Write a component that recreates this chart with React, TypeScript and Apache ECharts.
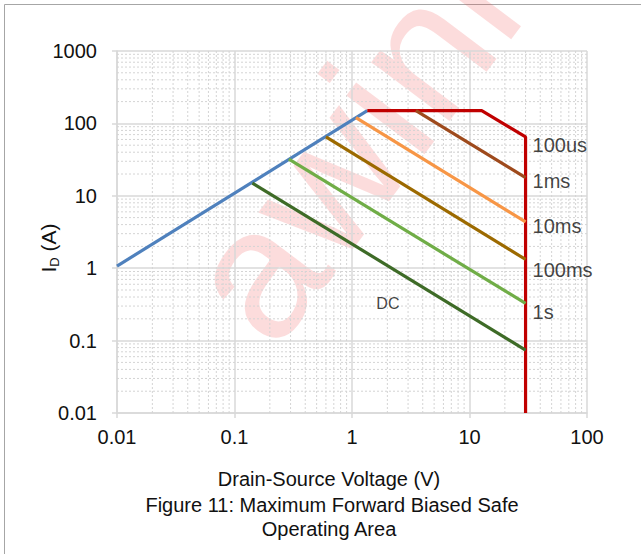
import React, { useEffect, useRef } from "react";
import * as echarts from "echarts";

// ---- data ----
const X_MIN = 0.01;
const X_MAX = 100;
const Y_MIN = 0.01;
const Y_MAX = 1000;

const limitV = [0.01, 1.35];
const limitI = [1.07, 150];

const us100V = [1.35, 12.7, 30, 30];
const us100I = [150, 150, 65, 0.01];

const ms1V = [3.5, 30];
const ms1I = [150, 17.8];

const ms10V = [1.08, 30];
const ms10I = [120, 4.35];

const ms100V = [0.6, 30];
const ms100I = [65, 1.32];

const s1V = [0.29, 30];
const s1I = [32, 0.326];

const dcV = [0.142, 30];
const dcI = [15, 0.074];

const curveNames = ["100us", "1ms", "10ms", "100ms", "1s"];
const labelV = [30, 30, 30, 30, 30];
const labelI = [50, 15.8, 3.8, 0.94, 0.247];
const dcLabelV = 2.02;
const dcLabelI = 0.33;

const FONT = "'Liberation Sans', Arial, sans-serif";

function zip(xs: number[], ys: number[]) {
  return xs.map((x, i) => [x, ys[i]]);
}

function minorValues(minExp: number, maxExp: number) {
  const out: number[] = [];
  for (let e = minExp; e < maxExp; e++) {
    for (let k = 2; k <= 9; k++) out.push(+(k * Math.pow(10, e)).toPrecision(3));
  }
  return out;
}

export default function App() {
  const ref = useRef<HTMLDivElement>(null);

  useEffect(() => {
    if (!ref.current) return;
    const chart = echarts.init(ref.current, undefined, { renderer: "svg" });

    const minorData: number[][] = [
      ...minorValues(-2, 2).map((v) => [v, 1, 0]),
      ...minorValues(-2, 3).map((v) => [1, v, 1]),
    ];

    const lineSeries = (name: string, data: number[][], color: string) => ({
      name,
      type: "line",
      data,
      showSymbol: false,
      symbol: "none",
      lineStyle: { color, width: 3.2 },
      z: 3,
      silent: true,
    });

    const option: any = {
      animation: false,
      backgroundColor: "#ffffff",
      grid: { left: 117, right: 54, top: 51, bottom: 141 },
      xAxis: {
        type: "log",
        logBase: 10,
        min: X_MIN,
        max: X_MAX,
        interval: 1,
        axisLine: { show: true, lineStyle: { color: "#d9d9d9", width: 1.5 } },
        axisTick: { show: true, inside: false, length: 5, lineStyle: { color: "#d9d9d9", width: 1.5 } },
        axisLabel: {
          color: "#111",
          fontSize: 20,
          fontFamily: FONT,
          margin: 14,
          formatter: (v: number) => String(+v.toPrecision(3)),
        },
        splitLine: { show: true, lineStyle: { color: "#d9d9d9", width: 1.5 } },
      },
      yAxis: {
        type: "log",
        logBase: 10,
        min: Y_MIN,
        max: Y_MAX,
        interval: 1,
        axisLine: { show: true, lineStyle: { color: "#d9d9d9", width: 1.5 } },
        axisTick: { show: true, inside: false, length: 5, lineStyle: { color: "#d9d9d9", width: 1.5 } },
        axisLabel: {
          color: "#111",
          fontSize: 20,
          fontFamily: FONT,
          margin: 20,
          formatter: (v: number) => String(+v.toPrecision(3)),
        },
        splitLine: { show: true, lineStyle: { color: "#d9d9d9", width: 1.5 } },
      },
      graphic: [
        {
          type: "rect",
          z: -5,
          silent: true,
          shape: { x: 4.5, y: 4.5, width: 800, height: 800 },
          style: { fill: "none", stroke: "#a6a6a6", lineWidth: 1 },
        },
        {
          type: "text",
          z: -2,
          silent: true,
          x: 297,
          y: 370,
          rotation: (53 * Math.PI) / 180,
          style: {
            text: "awinic",
            fontSize: 185,
            fontWeight: "normal",
            fontFamily: FONT,
            fill: "rgba(240, 60, 60, 0.18)",
            textAlign: "left",
            textVerticalAlign: "bottom",
          },
        },
        {
          type: "text",
          silent: true,
          x: 48,
          y: 248,
          rotation: Math.PI / 2,
          style: {
            text: "{a|I}{s|D}{a| (A)}",
            textAlign: "center",
            textVerticalAlign: "middle",
            rich: {
              a: { fontSize: 21, fontFamily: FONT, fill: "#111", lineHeight: 26, verticalAlign: "middle" },
              s: { fontSize: 13, fontFamily: FONT, fill: "#111", lineHeight: 12, verticalAlign: "bottom" },
            },
          },
        },
        {
          type: "text",
          silent: true,
          x: 329,
          y: 479,
          style: {
            text: "Drain-Source Voltage (V)",
            fontSize: 20,
            fontFamily: FONT,
            fill: "#111",
            textAlign: "center",
            textVerticalAlign: "middle",
          },
        },
        {
          type: "text",
          silent: true,
          x: 332,
          y: 505,
          style: {
            text: "Figure 11: Maximum Forward Biased Safe",
            fontSize: 20,
            fontFamily: FONT,
            fill: "#111",
            textAlign: "center",
            textVerticalAlign: "middle",
          },
        },
        {
          type: "text",
          silent: true,
          x: 329,
          y: 529,
          style: {
            text: "Operating Area",
            fontSize: 20,
            fontFamily: FONT,
            fill: "#111",
            textAlign: "center",
            textVerticalAlign: "middle",
          },
        },
      ],
      series: [
        {
          type: "custom",
          name: "minor grid",
          silent: true,
          z: 1,
          clip: true,
          data: minorData,
          encode: { x: 0, y: 1 },
          renderItem: (params: any, api: any) => {
            const cs = params.coordSys;
            const dir = api.value(2);
            const style = { stroke: "#d4d4d4", lineWidth: 1, lineDash: [2, 2] };
            if (dir === 0) {
              const x = api.coord([api.value(0), 1])[0];
              return { type: "line", shape: { x1: x, y1: cs.y, x2: x, y2: cs.y + cs.height }, style };
            }
            const y = api.coord([1, api.value(1)])[1];
            return { type: "line", shape: { x1: cs.x, y1: y, x2: cs.x + cs.width, y2: y }, style };
          },
        },
        lineSeries("limit", zip(limitV, limitI), "#4f81bd"),
        lineSeries("100us", zip(us100V, us100I), "#c00000"),
        lineSeries("1ms", zip(ms1V, ms1I), "#9e4a1c"),
        lineSeries("10ms", zip(ms10V, ms10I), "#f79646"),
        lineSeries("100ms", zip(ms100V, ms100I), "#9c6a00"),
        lineSeries("1s", zip(s1V, s1I), "#70ad47"),
        lineSeries("DC", zip(dcV, dcI), "#3e6b27"),
        {
          type: "scatter",
          name: "labels",
          silent: true,
          symbolSize: 0,
          z: 4,
          data: curveNames.map((n, i) => [labelV[i], labelI[i], n]),
          label: {
            show: true,
            position: "right",
            distance: 7,
            fontSize: 20,
            fontFamily: FONT,
            color: "#111",
            formatter: (p: any) => p.data[2],
          },
        },
        {
          type: "scatter",
          name: "dc label",
          silent: true,
          symbolSize: 0,
          z: 4,
          data: [[dcLabelV, dcLabelI, "DC"]],
          label: {
            show: true,
            position: "inside",
            fontSize: 16,
            fontFamily: FONT,
            color: "#111",
            formatter: (p: any) => p.data[2],
          },
        },
      ],
    };

    chart.setOption(option);
    return () => chart.dispose();
  }, []);

  return (
    <div
      ref={ref}
      style={{ position: "fixed", left: 0, top: 0, width: 641, height: 554, background: "#fff" }}
    />
  );
}
